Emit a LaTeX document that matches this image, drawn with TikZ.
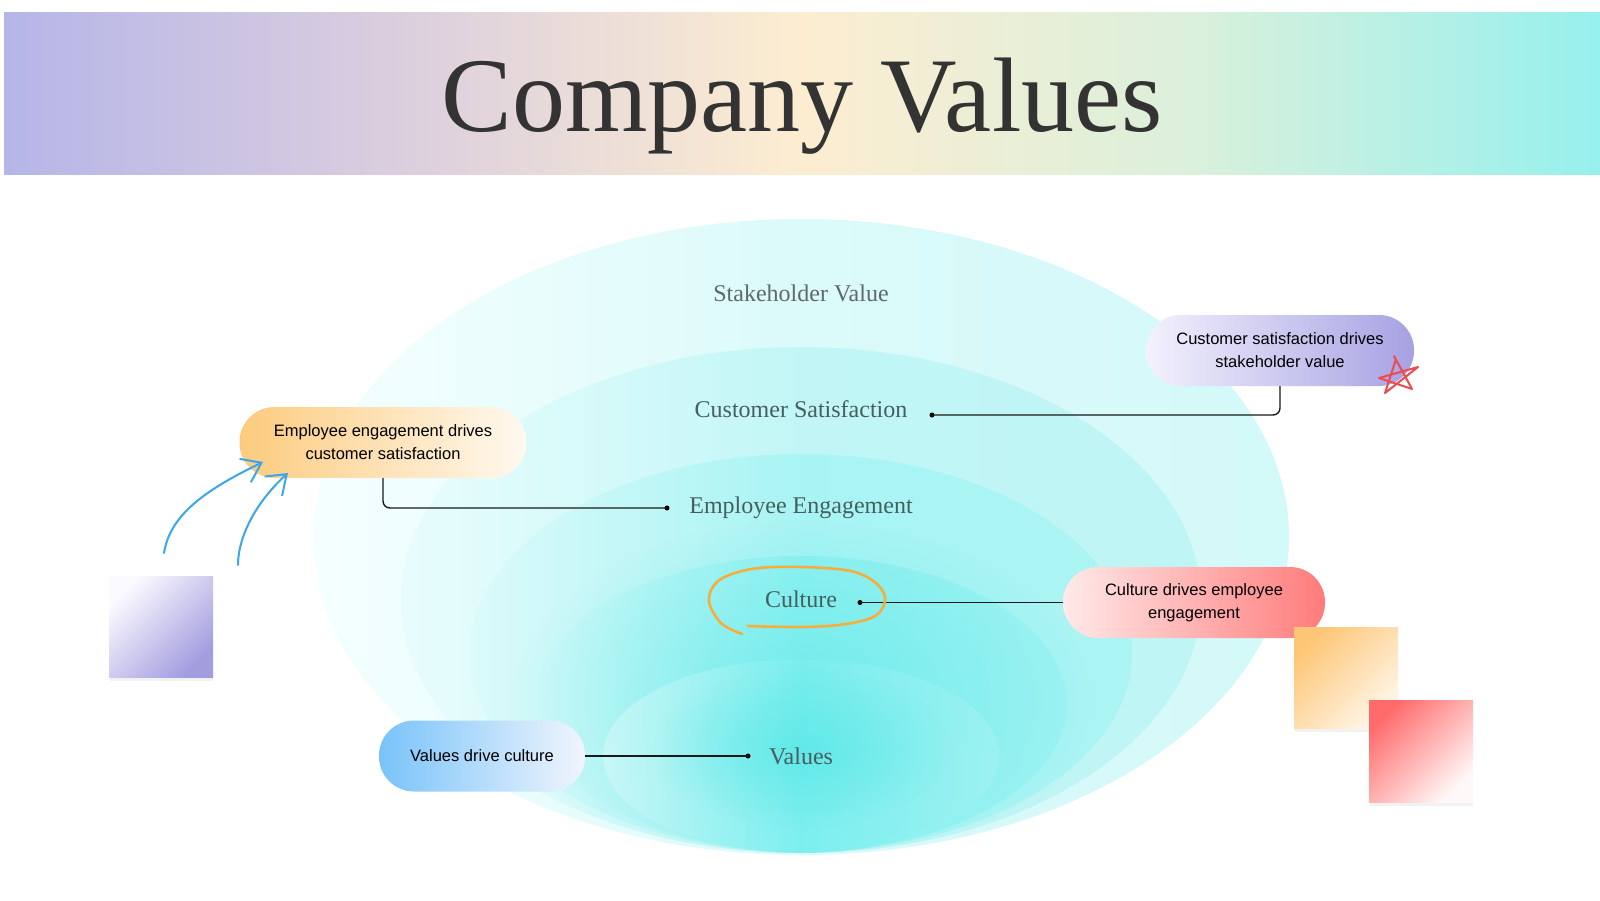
\documentclass[tikz,border=0pt]{standalone}
\usepackage{fontspec}
\setmainfont{Liberation Serif}
\newfontfamily\pillfont{Liberation Sans}
\usetikzlibrary{arrows.meta,fadings}

\definecolor{titlec}{HTML}{333333}
\definecolor{lblc}{HTML}{455E5E}
\definecolor{stakec}{HTML}{5E6A6A}
\definecolor{handblue}{HTML}{3AA6EB}
\definecolor{handorange}{HTML}{F5AE3C}
\definecolor{handred}{HTML}{EE4B50}
\definecolor{glowc}{rgb}{0.30,0.90,0.90}

\pgfdeclarehorizontalshading{hdr}{100bp}{rgb(0bp)=(0.71,0.71,0.91); rgb(25bp)=(0.71,0.71,0.91); rgb(37.5bp)=(0.86,0.81,0.87); rgb(50bp)=(0.99,0.93,0.82); rgb(62bp)=(0.86,0.94,0.86); rgb(75bp)=(0.59,0.94,0.93); rgb(100bp)=(0.59,0.94,0.93)}
\pgfdeclarehorizontalshading{layerA}{100bp}{rgb(0bp)=(0.96,1,1); rgb(25bp)=(0.96,1,1); rgb(50bp)=(0.86,0.98,0.98); rgb(75bp)=(0.83,0.975,0.975); rgb(100bp)=(0.83,0.975,0.975)}
\pgfdeclarehorizontalshading{layerB}{100bp}{rgb(0bp)=(0.91,0.99,0.99); rgb(25bp)=(0.91,0.99,0.99); rgb(50bp)=(0.76,0.965,0.965); rgb(75bp)=(0.75,0.96,0.96); rgb(100bp)=(0.75,0.96,0.96)}
\pgfdeclarehorizontalshading{layerC}{100bp}{rgb(0bp)=(0.86,0.98,0.98); rgb(25bp)=(0.86,0.98,0.98); rgb(50bp)=(0.66,0.955,0.955); rgb(75bp)=(0.67,0.955,0.955); rgb(100bp)=(0.67,0.955,0.955)}
\pgfdeclarehorizontalshading{layerD}{100bp}{rgb(0bp)=(0.82,0.975,0.975); rgb(25bp)=(0.82,0.975,0.975); rgb(50bp)=(0.56,0.945,0.945); rgb(75bp)=(0.62,0.95,0.95); rgb(100bp)=(0.62,0.95,0.95)}
\pgfdeclarehorizontalshading{layerE}{100bp}{rgb(0bp)=(0.80,0.97,0.97); rgb(25bp)=(0.80,0.97,0.97); rgb(50bp)=(0.48,0.935,0.935); rgb(75bp)=(0.62,0.95,0.95); rgb(100bp)=(0.62,0.95,0.95)}
\tikzfading[name=glowfade, inner color=transparent!0, outer color=transparent!100]

\begin{document}
\begin{tikzpicture}[x=1pt,y=-1pt,
  pill/.style={rounded corners=35pt, minimum height=71pt, inner sep=0pt, align=center,
    font=\pillfont\fontsize{16.5}{23}\selectfont, text=black},
  layerlbl/.style={font=\fontsize{24}{28}\selectfont, text=lblc, anchor=base},
  dotn/.style={circle, fill=black, inner sep=0pt, minimum size=5pt},
  conn/.style={line width=1.4pt, draw=black!90, rounded corners=7pt},
  bluearrow/.style={draw=handblue, line width=2pt, line cap=round, -{Straight Barb[length=18pt,width=26pt]}},
  hand/.style={line width=2.6pt, line cap=round, line join=round}]

\fill[white] (0,0) rectangle (1600,900);
\useasboundingbox (0,0) rectangle (1600,900);

% header
\path[shading=hdr] (4,12) rectangle (1600,174);
\node[anchor=base, font=\fontsize{106}{110}\selectfont, text=titlec] (title) at (802,131) {Company Values};

% nested layers
\path[shading=layerA] (801,537) ellipse [x radius=488pt, y radius=318pt];
\path[shading=layerB] (801,600) ellipse [x radius=400pt, y radius=253pt];
\path[shading=layerC] (801,653) ellipse [x radius=331pt, y radius=199pt];
\path[shading=layerD] (801,704) ellipse [x radius=266pt, y radius=148pt];
% central glow, kept inside the layers
\begin{scope}
  \clip (801,600) ellipse [x radius=400pt, y radius=253pt];
  \fill[glowc, path fading=glowfade, fill opacity=0.45] (801,700) ellipse [x radius=290pt, y radius=180pt];
\end{scope}
\path[shading=layerE, fill opacity=0.85] (801,756) ellipse [x radius=198pt, y radius=97pt];
\fill[glowc, path fading=glowfade, fill opacity=0.55] (801,748) ellipse [x radius=150pt, y radius=80pt];

% layer labels
\node[layerlbl, text=stakec] (stake) at (801,301) {Stakeholder Value};
\node[layerlbl] (cust) at (801,417) {Customer Satisfaction};
\node[layerlbl] (emp) at (801,513) {Employee Engagement};
\node[layerlbl] (cult) at (801,607) {Culture};
\node[layerlbl] (vals) at (801,764) {Values};

% dots
\node[dotn] (d1) at (667,508) {};
\node[dotn] (d2) at (932,415) {};
\node[dotn] (d3) at (860,602.5) {};
\node[dotn] (d4) at (748,756) {};

% pills
\node[pill, minimum width=287pt, left color={rgb,255:red,252;green,203;blue,126}, right color={rgb,255:red,255;green,249;blue,240}] (p1) at (383,442.5) {Employee engagement drives\\customer satisfaction};
\node[pill, minimum width=268pt, left color={rgb,255:red,243;green,241;blue,253}, right color={rgb,255:red,166;green,162;blue,227}] (p2) at (1280,350.5) {Customer satisfaction drives\\stakeholder value};
\node[pill, minimum width=262pt, left color={rgb,255:red,255;green,233;blue,233}, right color={rgb,255:red,255;green,123;blue,123}] (p3) at (1194,602.5) {Culture drives employee\\engagement};
\node[pill, minimum width=206pt, left color={rgb,255:red,121;green,195;blue,249}, right color={rgb,255:red,241;green,245;blue,253}] (p4) at (482,756) {Values drive culture};

% connectors
\draw[conn] (p1.south) |- (d1.center);
\draw[conn] (p2.south) |- (d2.center);
\draw[conn] (p3.west) -- (d3.center);
\draw[conn] (p4.east) -- (d4.center);

% sticky notes
\fill[black, opacity=0.05] (110,677) rectangle (213,681);
\shade[top color={rgb,255:red,251;green,250;blue,255}, bottom color={rgb,255:red,163;green,157;blue,224}, shading angle=45] (109,576) rectangle (213,677);
\fill[black, opacity=0.05] (1295,728) rectangle (1398,732);
\shade[top color={rgb,255:red,253;green,198;blue,118}, bottom color={rgb,255:red,255;green,246;blue,232}, shading angle=45] (1294,627) rectangle (1398,728);
\fill[black, opacity=0.05] (1370,802) rectangle (1473,806);
\shade[top color={rgb,255:red,255;green,107;blue,107}, bottom color={rgb,255:red,255;green,248;blue,248}, shading angle=45] (1369,700) rectangle (1473,802);

% hand-drawn arrows
\coordinate (a1s) at (164,553);
\coordinate (a1e) at (263,462);
\coordinate (a2s) at (238,565);
\coordinate (a2e) at (288,473);
\draw[bluearrow] (a1s) .. controls (170,515) and (205,490) .. (a1e);
\draw[bluearrow] (a2s) .. controls (238,535) and (258,500) .. (a2e);

% orange loop around Culture
\draw[hand, draw=handorange] plot[smooth, tension=0.6] coordinates {(742,634) (721,623) (709,601) (717,582) (742,571) (775,567) (825,568) (858,573) (879,586) (885,601) (875,616) (846,624) (804,627) (748,626)};

% red star
\draw[hand, draw=handred, line width=2pt] (1396,359) -- (1385,393) -- (1418,367) -- (1379,378) -- (1412,389) -- (1394,356);

\end{tikzpicture}
\end{document}
